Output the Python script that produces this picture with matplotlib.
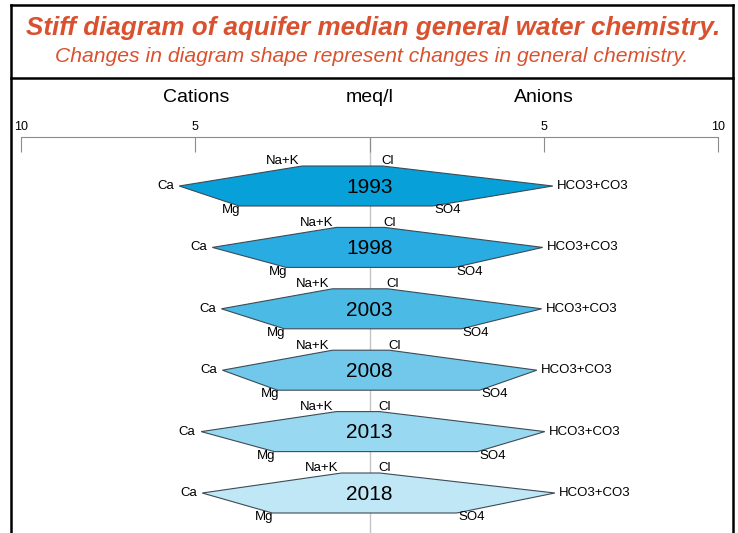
import numpy as np
import matplotlib
matplotlib.use("Agg")
import matplotlib.pyplot as plt
from matplotlib.lines import Line2D
from matplotlib.patches import Polygon

plt.rcParams["font.family"] = ["Liberation Sans", "DejaVu Sans"]

# ── data (median meq/l) ───────────────────────────────────────────────────────
years = ["1993", "1998", "2003", "2008", "2013", "2018"]
na_k  = [1.93, 0.95, 1.06, 1.06, 0.95, 0.80]
ca    = [5.46, 4.51, 4.25, 4.22, 4.83, 4.80]
mg    = [3.74, 2.39, 2.44, 2.64, 2.73, 2.79]
cl    = [0.37, 0.43, 0.52, 0.57, 0.29, 0.29]
hco3  = [5.26, 4.97, 4.94, 4.80, 5.03, 5.32]
so4   = [1.81, 2.44, 2.64, 3.16, 3.10, 2.50]

colors = ["#07a0d9", "#29ace1", "#4bbbe5", "#71c8eb", "#98d8f0", "#c0e7f6"]
RED = "#d9512e"

W, H = 738, 533
fig = plt.figure(figsize=(W / 100, H / 100), dpi=100)

def fy(px):
    return 1 - px / H

def fx(px):
    return px / W

# ── frame + header ────────────────────────────────────────────────────────────
for xs, ys in [([11, 733], [5, 5]), ([11, 733], [78, 78]),
               ([11, 11], [5, 540]), ([733, 733], [5, 540])]:
    fig.add_artist(Line2D([fx(x) for x in xs], [fy(y) for y in ys],
                          color="black", lw=1.8, solid_capstyle="projecting"))

fig.text(fx(373), fy(28), "Stiff diagram of aquifer median general water chemistry.",
         ha="center", va="center", fontsize=18.7, fontweight="bold",
         fontstyle="italic", color=RED)
fig.text(fx(372), fy(57), "Changes in diagram shape represent changes in general chemistry.",
         ha="center", va="center", fontsize=15.2, fontstyle="italic", color=RED)

for x, t in [(196, "Cations"), (370, "meq/l"), (544, "Anions")]:
    fig.text(fx(x), fy(97), t, ha="center", va="center", fontsize=14)

# ── stiff axes ────────────────────────────────────────────────────────────────
row_px, top_px = 61.4, 137
ax = fig.add_axes([fx(21), 0, fx(718) - fx(21), fy(top_px)])
ax.set_xlim(-10, 10)
ax.set_ylim((H - 186) / row_px, (top_px - 186) / row_px)
for s in ["left", "right", "bottom"]:
    ax.spines[s].set_visible(False)
ax.spines["top"].set_color("#8c8c8c")
ax.xaxis.set_ticks_position("top")
ax.set_xticks([-10, -5, 0, 5, 10])
ax.set_xticklabels(["10", "5", "", "5", "10"])
ax.tick_params(axis="x", direction="in", length=11, color="#8c8c8c",
               labelsize=9, pad=3)
ax.set_yticks([])
ax.axvline(0, color="#c4c4c4", lw=1, zorder=0)

h = 20 / row_px
for i, yr in enumerate(years):
    pts = [(-na_k[i], i - h), (-ca[i], i), (-mg[i], i + h),
           (so4[i], i + h), (hco3[i], i), (cl[i], i - h)]
    ax.add_patch(Polygon(pts, closed=True, facecolor=colors[i],
                         edgecolor="#3d4b55", lw=0.8, zorder=2))
    ax.text(0, i + 0.02, yr, ha="center", va="center", fontsize=15, zorder=3)
    kw = dict(textcoords="offset points", fontsize=9.5, zorder=3)
    ax.annotate("Na+K", (-na_k[i], i - h), xytext=(-2, -1), ha="right", va="bottom", **kw)
    ax.annotate("Cl", (cl[i], i - h), xytext=(-1, -1), ha="left", va="bottom", **kw)
    ax.annotate("Ca", (-ca[i], i), xytext=(-4, 0), ha="right", va="center", **kw)
    ax.annotate("HCO3+CO3", (hco3[i], i), xytext=(3, 0), ha="left", va="center", **kw)
    ax.annotate("Mg", (-mg[i], i + h), xytext=(1, -3), ha="right", va="center", **kw)
    ax.annotate("SO4", (so4[i], i + h), xytext=(1, -3), ha="left", va="center", **kw)

fig.savefig("out.png", dpi=100)
